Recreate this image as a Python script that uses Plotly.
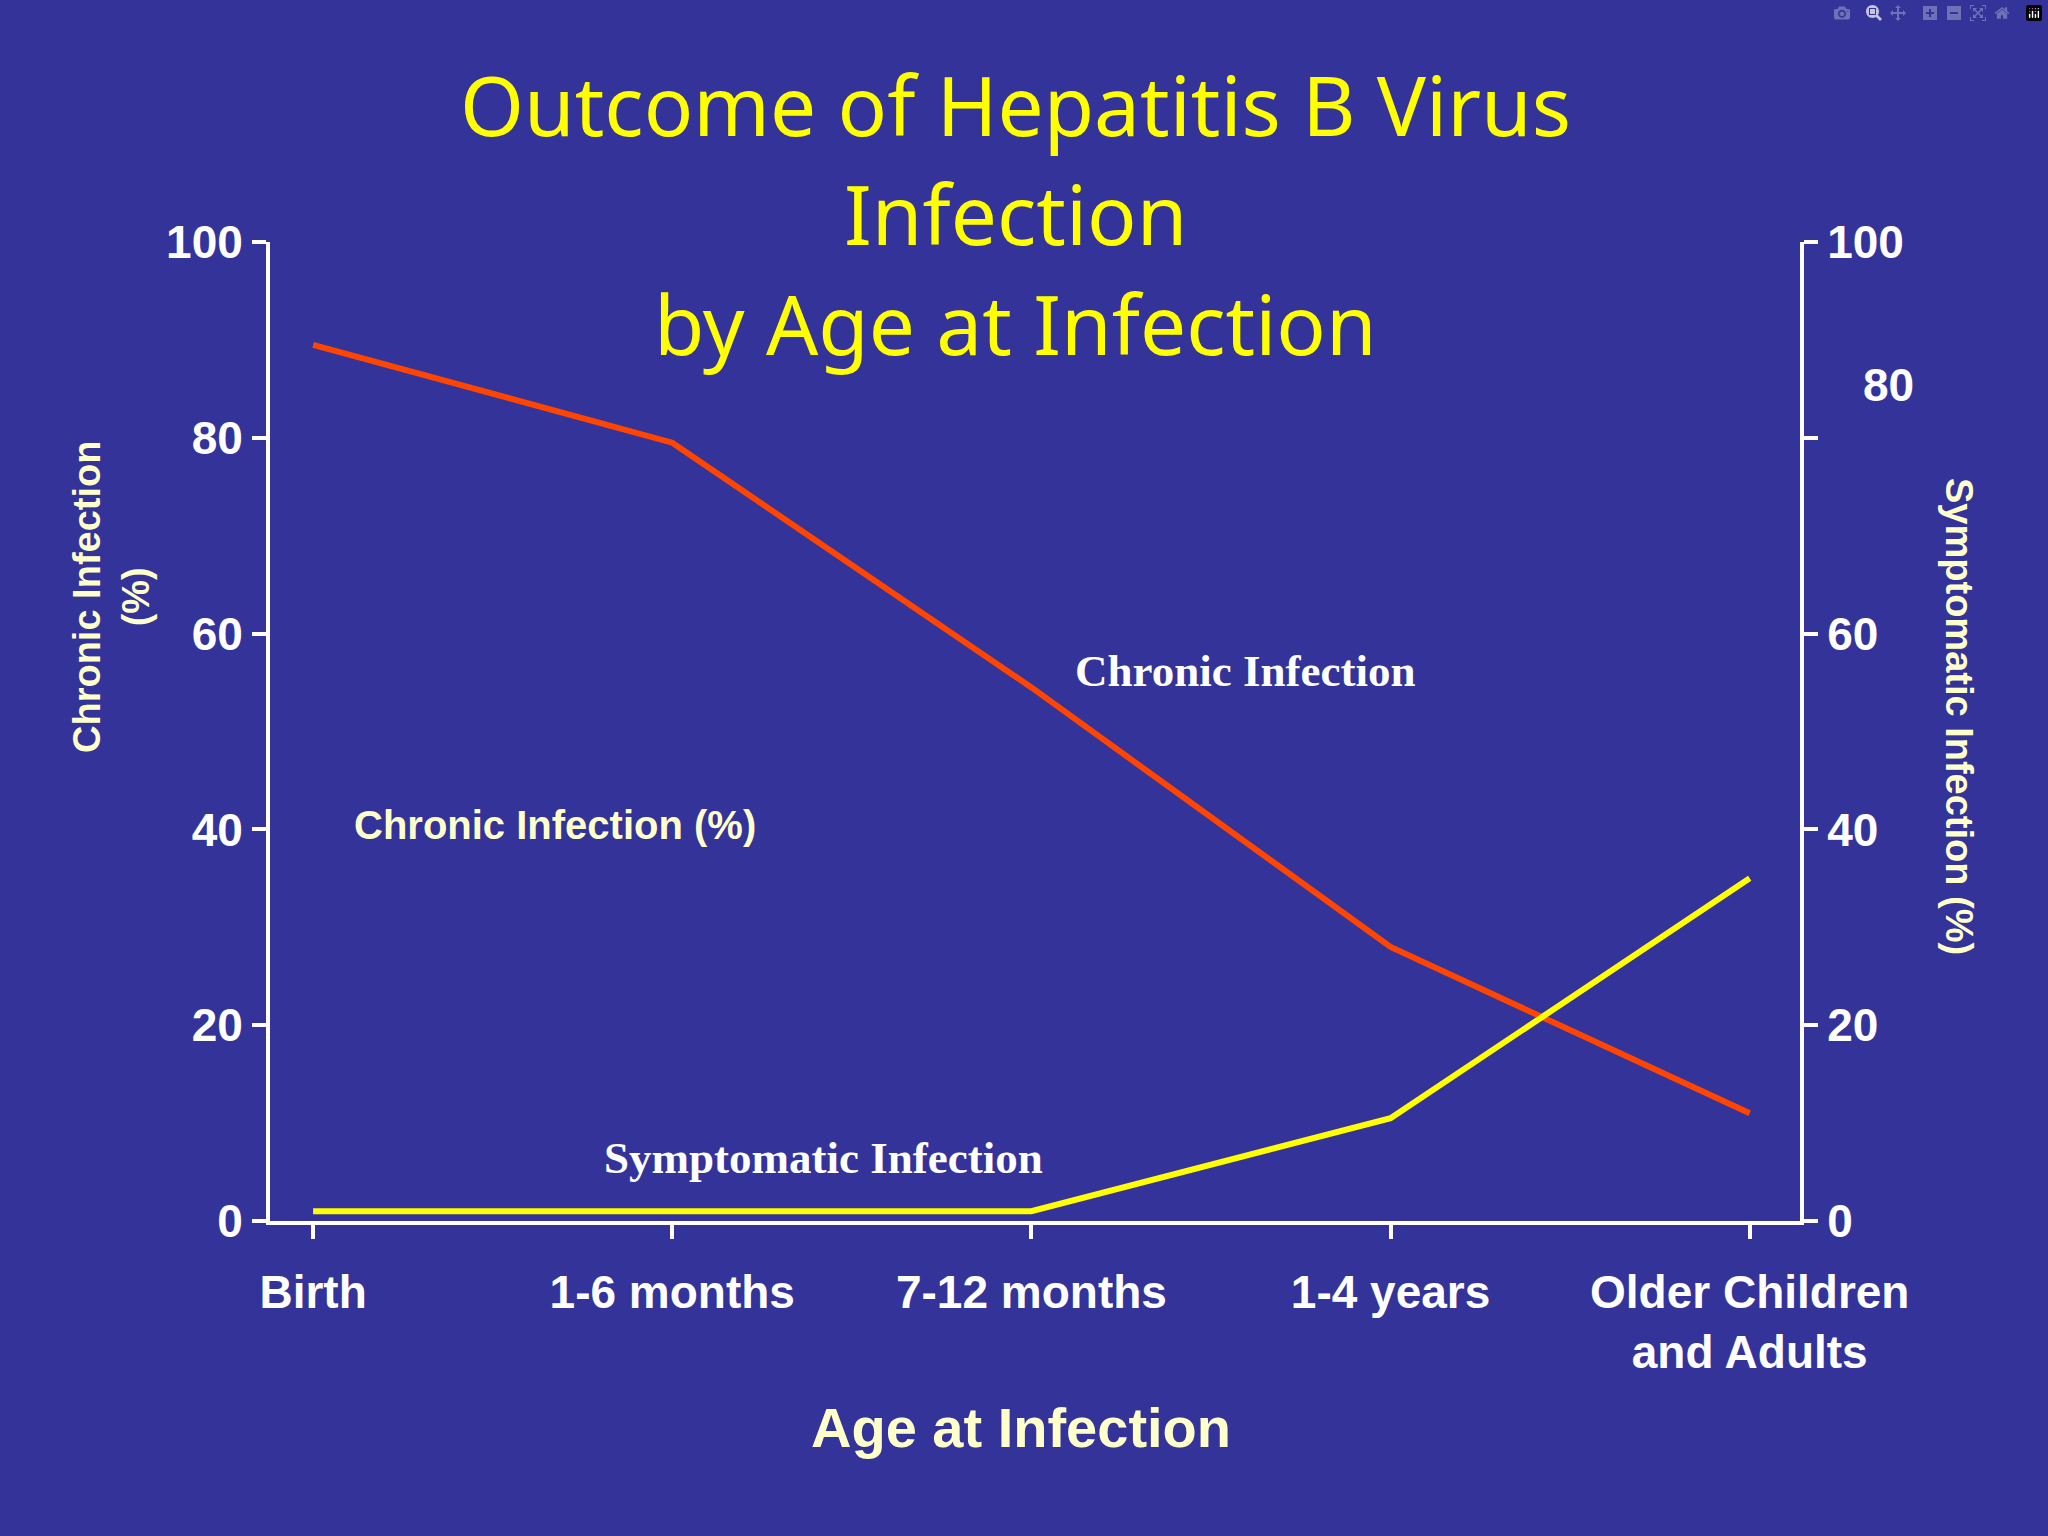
import plotly.graph_objects as go

categories = ["Birth", "1-6 months", "7-12 months", "1-4 years", "Older Children<br>and Adults"]
chronic = [89.5, 79.5, 54.5, 28, 11]
symptomatic = [1, 1, 1, 10.5, 35]
left_ticks = [0, 20, 40, 60, 80, 100]
right_ticks = [0, 20, 40, 60, 80, 100]

W, H = 2048, 1536
L, R, T, B = 270, 1800, 242, 1221
def px(x): return (x - L) / (R - L)
def py(y): return (B - y) / (B - T)

BG = "#333399"
LY = "#FFFFCC"
tickfont = dict(family="Liberation Sans, Arial", size=46, color="white")

fig = go.Figure()
xs = list(range(len(categories)))
fig.add_trace(go.Scatter(x=xs, y=chronic, mode="lines", line=dict(color="#FF4500", width=6), yaxis="y"))
fig.add_trace(go.Scatter(x=xs, y=symptomatic, mode="lines", line=dict(color="#FFFF00", width=6), yaxis="y2"))

ann = []
title_lines = [("Outcome of Hepatitis B Virus", 104), ("Infection", 213), ("by Age at Infection", 323)]
for t, y in title_lines:
    ann.append(dict(text=t, x=px(1015), y=py(y),
                    font=dict(family="Noto Sans", size=82, color="#FFFF00")))
ann += [
    dict(text="<b>Chronic Infection<br>(%)</b>", x=px(111), y=py(597), textangle=-90,
         font=dict(family="Liberation Sans", size=38, color=LY)),
    dict(text="<b>Symptomatic Infection (%)</b>", x=px(1959), y=py(716), textangle=90,
         font=dict(family="Liberation Sans", size=38, color=LY)),
    dict(text="<b>Chronic Infection (%)</b>", x=px(555), y=py(825),
         font=dict(family="Liberation Sans", size=40, color=LY)),
    dict(text="<b>Chronic Infection</b>", x=px(1245), y=py(671),
         font=dict(family="Liberation Serif", size=45, color="white")),
    dict(text="<b>Symptomatic Infection</b>", x=px(823), y=py(1158),
         font=dict(family="Liberation Serif", size=45, color="white")),
    dict(text="<b>Age at Infection</b>", x=px(1021), y=py(1427),
         font=dict(family="Liberation Sans", size=56, color=LY)),
    dict(text="<b>80</b>", x=px(1888), y=py(385), font=tickfont),
]
for a in ann:
    a.update(xref="paper", yref="paper", showarrow=False, xanchor="center", yanchor="middle")

fig.update_layout(
    width=W, height=H, paper_bgcolor=BG, plot_bgcolor=BG, showlegend=False,
    margin=dict(l=L, r=W - R, t=T, b=H - B),
    xaxis=dict(tickvals=xs, ticktext=["<b>%s</b>" % c for c in categories], range=[-0.12, 4.14],
               showgrid=False, zeroline=False, showline=True, linecolor="white", linewidth=4,
               ticks="outside", ticklen=14, tickwidth=4, tickcolor="white", tickfont=tickfont,
               ticklabelstandoff=14),
    yaxis=dict(range=[0, 100], tickvals=left_ticks, ticktext=["<b>%d</b>" % v for v in left_ticks],
               showgrid=False, zeroline=False, showline=True, linecolor="white", linewidth=4,
               ticks="outside", ticklen=14, tickwidth=4, tickcolor="white", tickfont=tickfont),
    yaxis2=dict(range=[0, 100], overlaying="y", side="right", tickvals=right_ticks,
                ticktext=["<b>%d</b>" % v if v != 80 else "" for v in right_ticks],
                showgrid=False, zeroline=False, showline=True, linecolor="white", linewidth=4,
                ticks="outside", ticklen=14, tickwidth=4, tickcolor="white", tickfont=tickfont),
    annotations=ann,
)
fig.write_html("out.html", post_script="document.body.style.margin='0';document.body.style.overflow='hidden';")
